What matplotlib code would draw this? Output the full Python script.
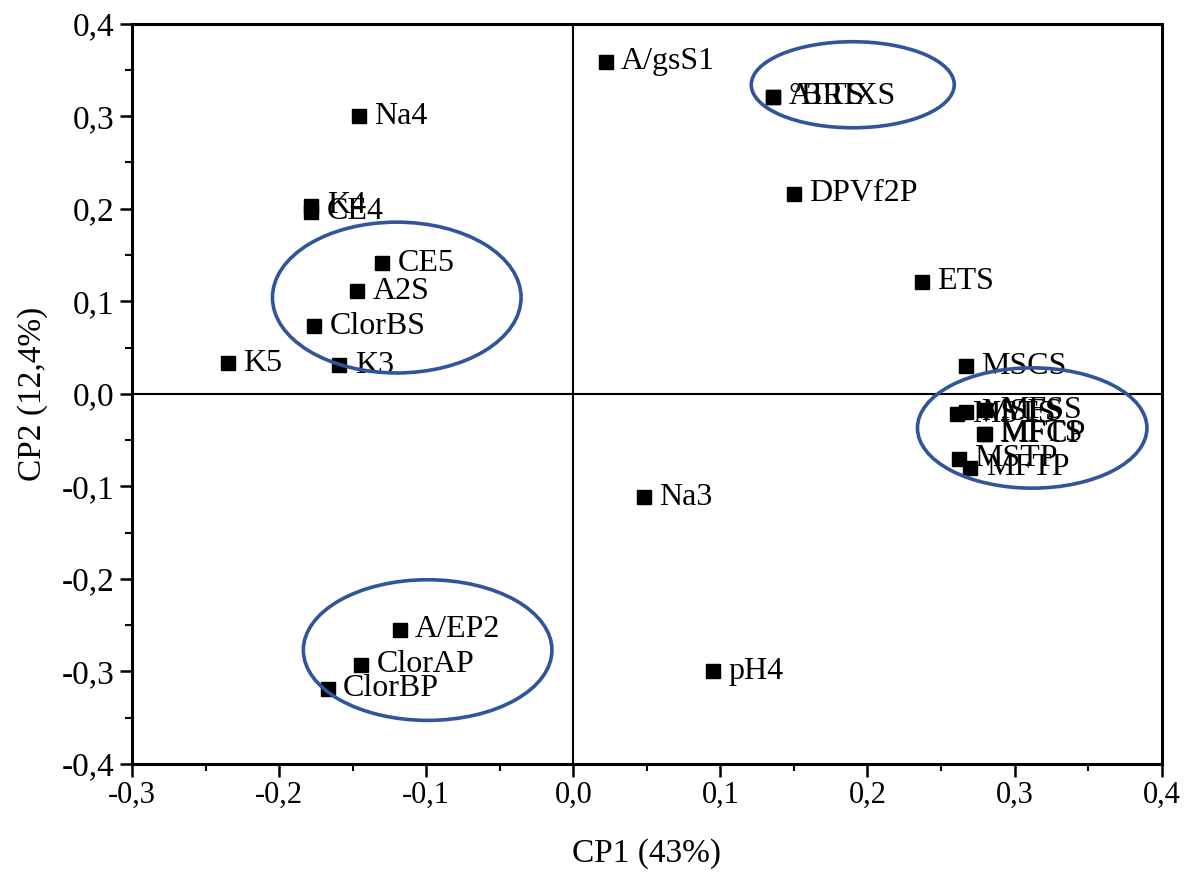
import numpy as np
import matplotlib.pyplot as plt
from matplotlib.patches import Ellipse
from matplotlib.ticker import FuncFormatter, MultipleLocator

plt.rcParams['font.family'] = ['Liberation Serif', 'DejaVu Serif']

# loadings
labels = ['A/gsS1', '°BRIXS', 'ATTS', 'Na4', 'K4', 'CE4', 'CE5', 'A2S', 'ClorBS',
          'K5', 'K3', 'DPVf2P', 'ETS', 'MSCS', 'MSTS', 'MSFS', 'MFSS', 'MFTS',
          'MFCP', 'MSTP', 'MFTP', 'Na3', 'pH4', 'A/EP2', 'ClorAP', 'ClorBP']
cp1 = [0.022, 0.136, 0.136, -0.146, -0.178, -0.178, -0.130, -0.147, -0.176,
       -0.235, -0.159, 0.150, 0.237, 0.267, 0.261, 0.267, 0.280, 0.279,
       0.280, 0.262, 0.270, 0.048, 0.095, -0.118, -0.144, -0.167]
cp2 = [0.359, 0.321, 0.321, 0.300, 0.203, 0.197, 0.141, 0.111, 0.073,
       0.033, 0.031, 0.216, 0.121, 0.030, -0.022, -0.020, -0.018, -0.043,
       -0.044, -0.070, -0.080, -0.112, -0.300, -0.255, -0.293, -0.319]

# groups circled in the figure: centre x, centre y, width, height
ell_x = [0.190, -0.120, 0.312, -0.099]
ell_y = [0.334, 0.104, -0.037, -0.277]
ell_w = [0.138, 0.169, 0.156, 0.169]
ell_h = [0.093, 0.163, 0.130, 0.152]

fig = plt.figure(figsize=(11.89, 8.77), dpi=100)
ax = fig.add_axes([0.111, 0.129, 0.866, 0.844])

ax.axhline(0, color='black', lw=1.5, zorder=1)
ax.axvline(0, color='black', lw=1.5, zorder=1)

ax.plot(cp1, cp2, 's', color='black', markersize=10, zorder=3)
for lab, x, y in zip(labels, cp1, cp2):
    ax.annotate(lab, (x, y), xytext=(11, 0), textcoords='offset points',
                va='center', ha='left', fontsize=23, zorder=4)

for cx, cy, w, h in zip(ell_x, ell_y, ell_w, ell_h):
    ax.add_patch(Ellipse((cx, cy), w, h, fill=False, edgecolor='#2f569a',
                         lw=2.6, zorder=5))

ax.set_xlim(-0.3, 0.4)
ax.set_ylim(-0.4, 0.4)
ax.xaxis.set_major_locator(MultipleLocator(0.1))
ax.xaxis.set_minor_locator(MultipleLocator(0.05))
ax.yaxis.set_major_locator(MultipleLocator(0.1))
ax.yaxis.set_minor_locator(MultipleLocator(0.05))
fmt = FuncFormatter(lambda v, p: ('%.1f' % v).replace('.', ',').replace('-0,0', '0,0'))
ax.xaxis.set_major_formatter(fmt)
ax.yaxis.set_major_formatter(fmt)
ax.tick_params(which='major', direction='out', length=9, width=1.8, labelsize=22)
ax.tick_params(axis='y', which='major', labelsize=24)
ax.tick_params(which='minor', direction='out', length=5, width=1.5)
for s in ax.spines.values():
    s.set_linewidth(2.2)

ax.set_xlabel('CP1 (43%)', fontsize=24, labelpad=20)
ax.set_ylabel('CP2 (12,4%)', fontsize=24, labelpad=10)

fig.savefig('out.png', dpi=100)
